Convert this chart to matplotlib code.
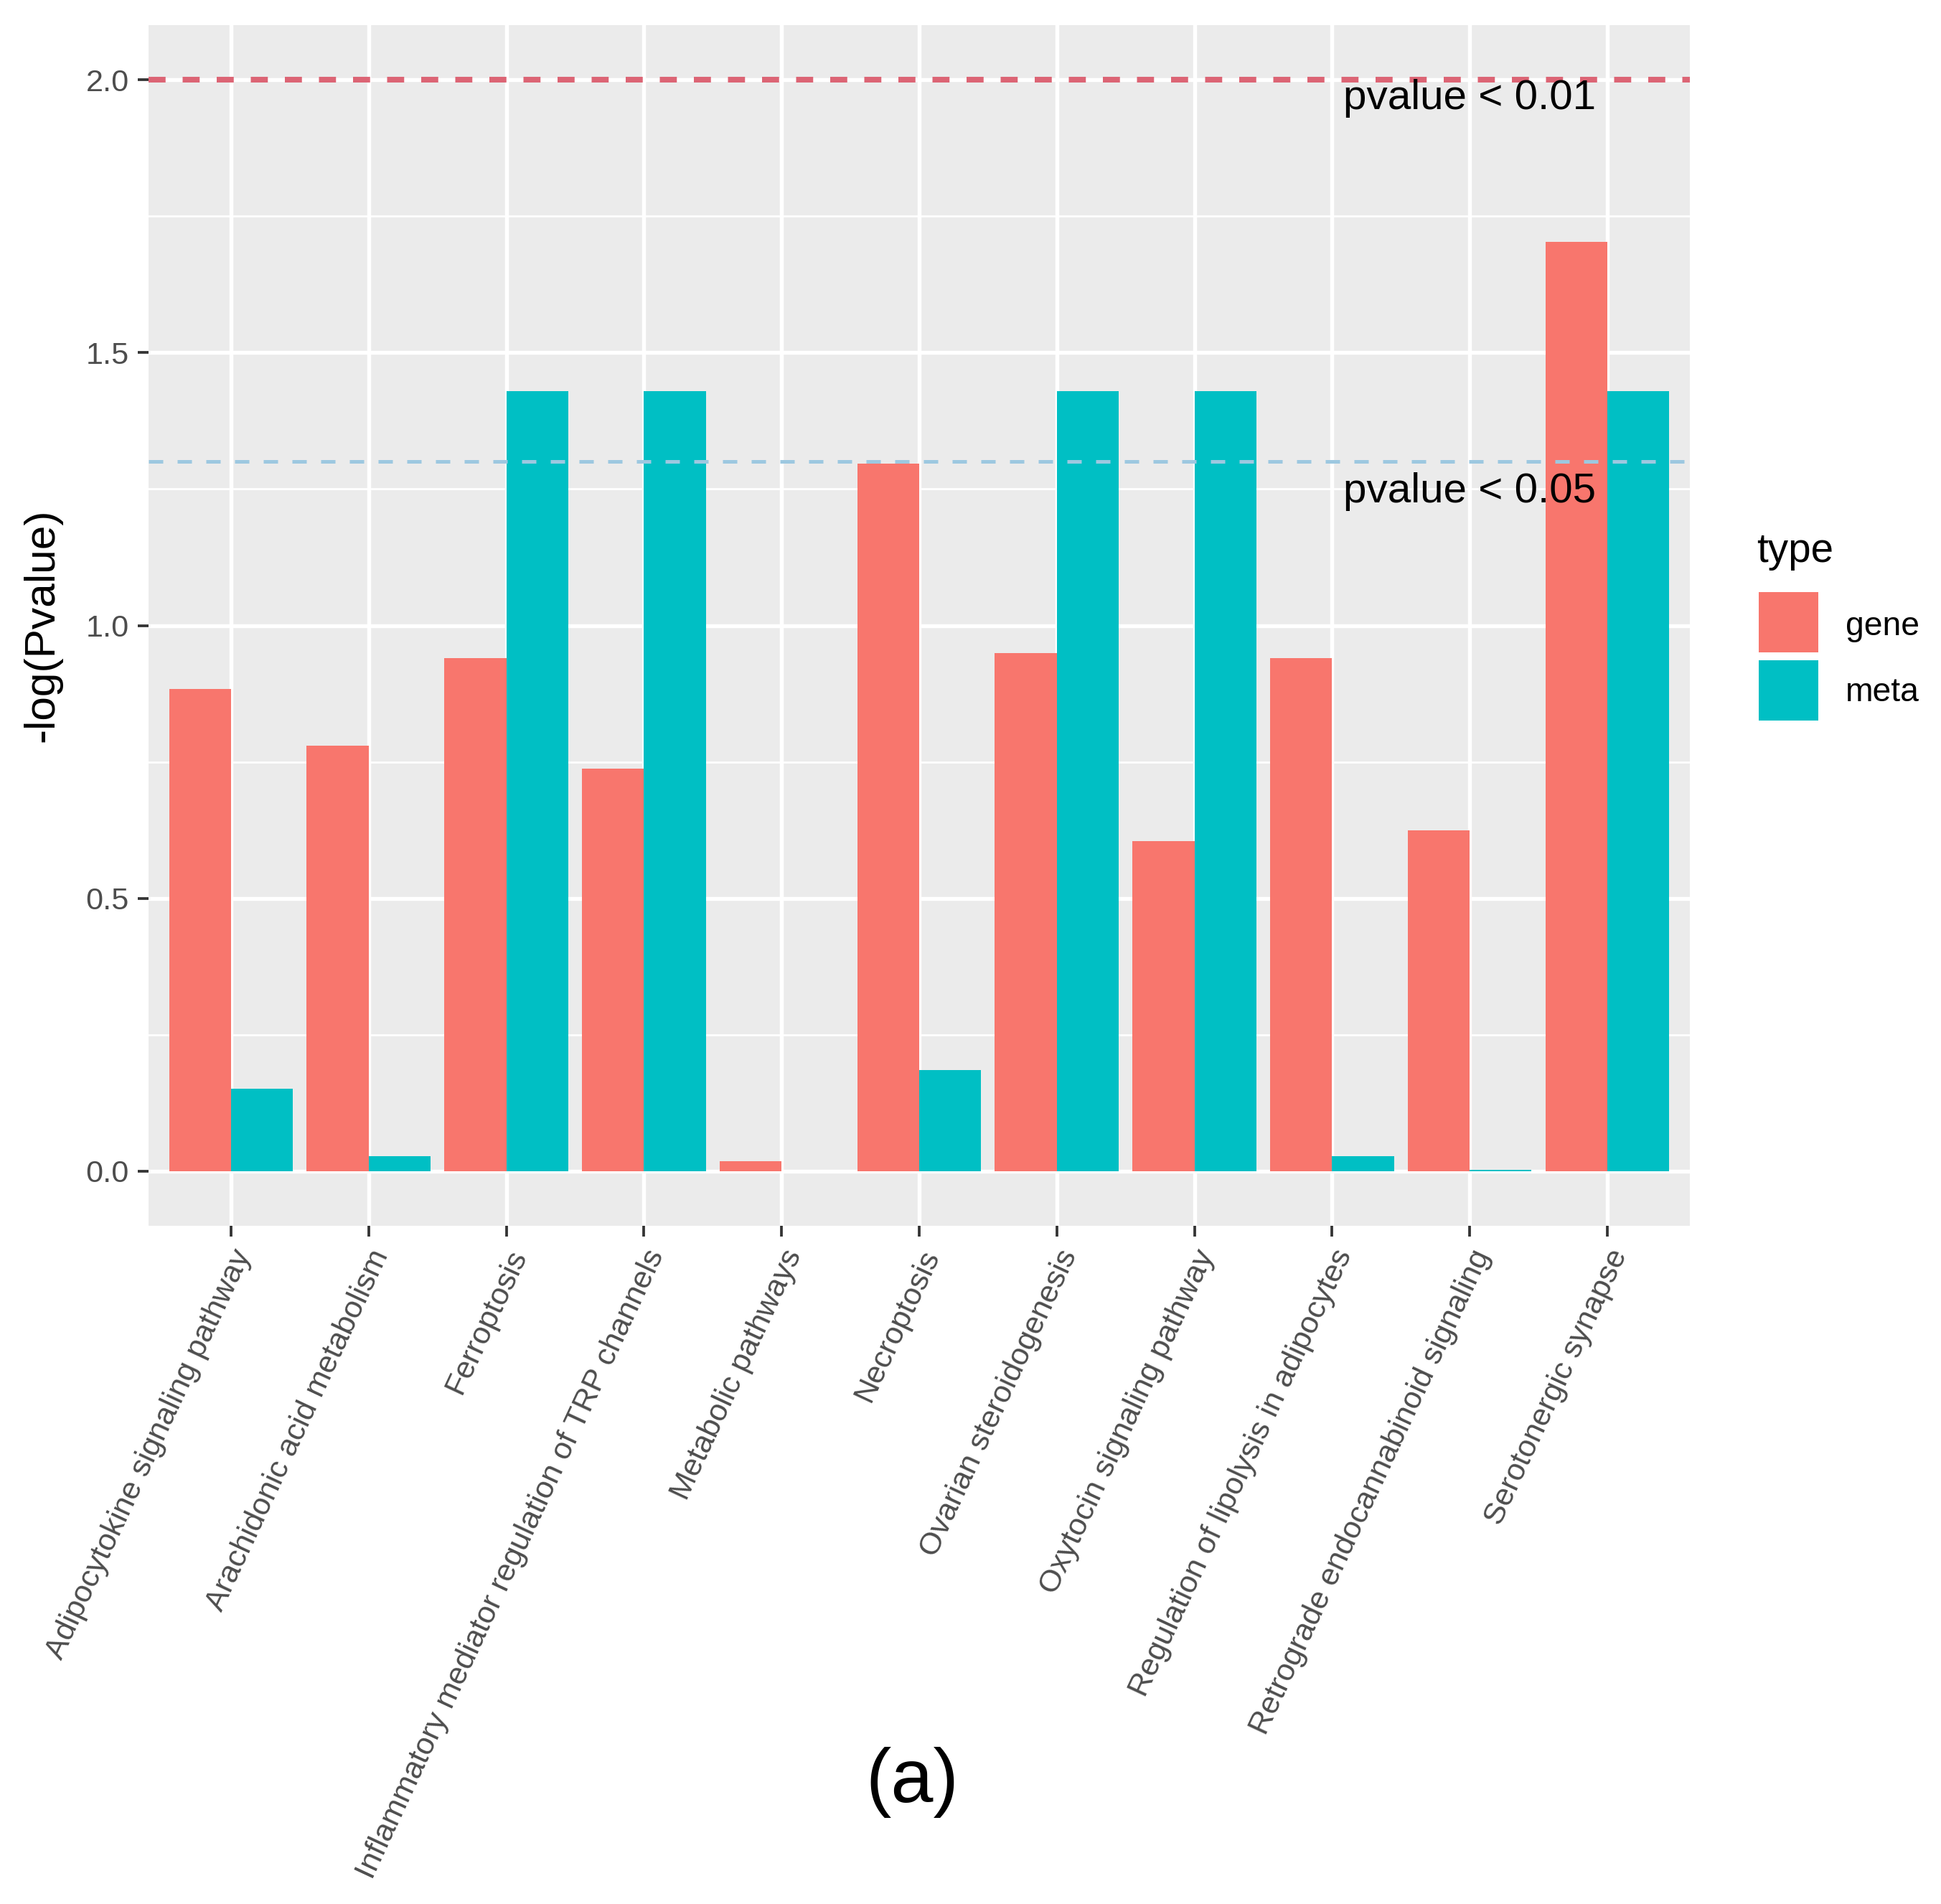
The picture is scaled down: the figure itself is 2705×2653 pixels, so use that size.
import matplotlib
matplotlib.use('Agg')
import matplotlib.pyplot as plt
import numpy as np
from matplotlib.patches import Rectangle

plt.rcParams['font.family'] = ['Liberation Sans', 'DejaVu Sans']

pathways = ['Adipocytokine signaling pathway', 'Arachidonic acid metabolism',
            'Ferroptosis', 'Inflammatory mediator regulation of TRP channels',
            'Metabolic pathways', 'Necroptosis', 'Ovarian steroidogenesis',
            'Oxytocin signaling pathway', 'Regulation of lipolysis in adipocytes',
            'Retrograde endocannabinoid signaling', 'Serotonergic synapse']
gene = [0.883, 0.780, 0.940, 0.738, 0.018, 1.297, 0.949, 0.605, 0.940, 0.625, 1.703]
meta = [0.151, 0.027, 1.430, 1.430, 0.0, 0.185, 1.430, 1.430, 0.027, 0.003, 1.430]
types = ['gene', 'meta']
colors = ['#F8766D', '#00BFC4']
cut01 = 2.0       # -log10(0.01)
cut05 = 1.30103   # -log10(0.05)

fig = plt.figure(figsize=(2705 / 300, 2653 / 300), dpi=300)
ax = fig.add_axes([0.0765, 0.3562, 0.8706 - 0.0765, 0.9868 - 0.3562])
ax.set_facecolor('#EBEBEB')

x = np.arange(len(pathways))
w = 0.45
ax.bar(x - w / 2, gene, width=w, color=colors[0], zorder=3)
ax.bar(x + w / 2, meta, width=w, color=colors[1], zorder=3)

ax.axhline(cut01, color='#DC6474', lw=1.9, ls=(0, (3, 3)), zorder=4)
ax.axhline(cut05, color='#9DC8E0', lw=1.2, ls=(0, (4, 4)), zorder=4)
ax.text(9, 1.946, 'pvalue < 0.01', ha='center', va='baseline', fontsize=14, color='black', zorder=5)
ax.text(9, 1.225, 'pvalue < 0.05', ha='center', va='baseline', fontsize=14, color='black', zorder=5)

ax.set_xlim(-0.6, len(pathways) - 0.4)
ax.set_ylim(-0.1, 2.1)
ax.set_yticks([0, 0.5, 1.0, 1.5, 2.0])
ax.set_yticklabels(['0.0', '0.5', '1.0', '1.5', '2.0'])
ax.set_yticks([0.25, 0.75, 1.25, 1.75], minor=True)
ax.set_xticks(x)
ax.set_xticklabels(pathways, rotation=65, ha='right', va='top', rotation_mode='anchor')

ax.grid(True, which='major', color='white', lw=1.3, zorder=1)
ax.grid(True, which='minor', axis='y', color='white', lw=0.65, zorder=1)
for s in ax.spines.values():
    s.set_visible(False)
ax.tick_params(axis='both', which='major', length=3.5, width=0.9, color='#333333',
               labelcolor='#4D4D4D', labelsize=10.4, pad=3)
ax.tick_params(axis='y', which='minor', length=0)
ax.set_ylabel('-log(Pvalue)', fontsize=14.5, color='black', labelpad=8)

# legend drawn by hand, ggplot style
fig.text(0.9050, 0.7049, 'type', fontsize=13.6, ha='left', va='baseline')
key_bottoms = [0.6574, 0.6216]
label_base = [0.6664, 0.6317]
for name, c, kb, lb in zip(types, colors, key_bottoms, label_base):
    fig.add_artist(Rectangle((0.9061, kb), 0.0307, 0.0316, transform=fig.transFigure,
                             facecolor=c, edgecolor='none'))
    fig.text(0.9508, lb, name, fontsize=11.1, ha='left', va='baseline')

fig.text(0.47, 0.064, '(a)', fontsize=25.5, ha='center', va='center')

fig.savefig('out.png', dpi=300)
